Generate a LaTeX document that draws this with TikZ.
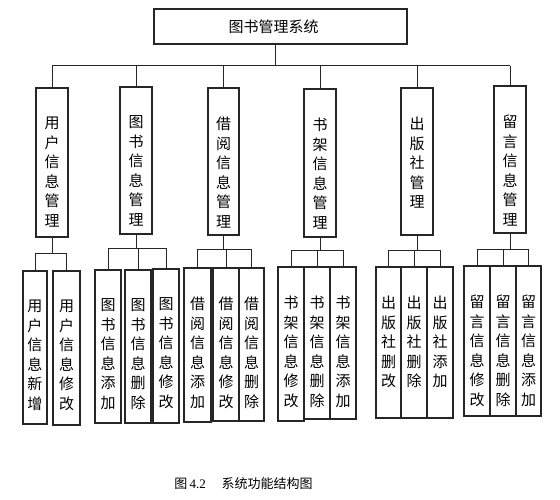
\documentclass[tikz,border=0pt]{standalone}
\usepackage{fontspec}
\setmainfont{Liberation Serif}
\newfontfamily\cjk{Noto Sans CJK SC}
\newcommand{\vt}[3]{\parbox[c][#2][t]{#1}{\centering\cjk\fontsize{15pt}{19.5pt}\selectfont\vspace*{29pt}#3}}
\begin{document}
\begin{tikzpicture}[x=1pt,y=-1pt,
  ln/.style={line width=1pt, draw=black!85},
  bx/.style={draw=black!85, line width=1.1pt, inner sep=0pt, fill=white},
  toptext/.style={font=\cjk\fontsize{15pt}{18pt}\selectfont}]
\useasboundingbox[fill=white] (0,0) rectangle (560,500);

% top
\node[bx, toptext, minimum width=253pt, minimum height=35pt] (top) at (280.5,26.5) {\hspace{-14pt}图书管理系统};

% level 2
\node[bx] (A) at (52,162.5)  {\vt{32pt}{149pt}{用\\户\\信\\息\\管\\理}};
\node[bx] (B) at (136,160.5) {\vt{32pt}{147pt}{图\\书\\信\\息\\管\\理}};
\node[bx] (C) at (223.5,161.5) {\vt{31pt}{147pt}{借\\阅\\信\\息\\管\\理}};
\node[bx] (D) at (320,163)   {\vt{32pt}{148pt}{书\\架\\信\\息\\管\\理}};
\node[bx] (E) at (417,161.5) {\vt{32pt}{147pt}{出\\版\\社\\管\\理}};
\node[bx] (F) at (510,159.5) {\vt{32pt}{147pt}{留\\言\\信\\息\\管\\理}};

% level 3
\node[bx] (a1) at (35,347.5)  {\vt{24pt}{153pt}{用\\户\\信\\息\\新\\增}};
\node[bx] (a2) at (66.5,348)  {\vt{27pt}{154pt}{用\\户\\信\\息\\修\\改}};
\node[bx] (b1) at (108,346.5) {\vt{26pt}{153pt}{图\\书\\信\\息\\添\\加}};
\node[bx] (b2) at (138,346.5) {\vt{26pt}{153pt}{图\\书\\信\\息\\删\\除}};
\node[bx] (b3) at (166,346)   {\vt{26pt}{154pt}{图\\书\\信\\息\\修\\改}};
\node[bx] (c1) at (197.5,345) {\vt{27pt}{154pt}{借\\阅\\信\\息\\添\\加}};
\node[bx] (c2) at (226,344.5) {\vt{26pt}{153pt}{借\\阅\\信\\息\\修\\改}};
\node[bx] (c3) at (251.5,344.5) {\vt{25pt}{153pt}{借\\阅\\信\\息\\删\\除}};
\node[bx] (d1) at (291,344)   {\vt{26pt}{154pt}{书\\架\\信\\息\\修\\改}};
\node[bx] (d2) at (317,343)   {\vt{26pt}{152pt}{书\\架\\信\\息\\删\\除}};
\node[bx] (d3) at (343,343)   {\vt{26pt}{152pt}{书\\架\\信\\息\\添\\加}};
\node[bx] (e1) at (388.5,342.5) {\vt{25pt}{151pt}{出\\版\\社\\删\\改}};
\node[bx] (e2) at (414,342.5) {\vt{26pt}{151pt}{出\\版\\社\\删\\除}};
\node[bx] (e3) at (440,342.5) {\vt{26pt}{151pt}{出\\版\\社\\添\\加}};
\node[bx] (f1) at (477,341)   {\vt{26pt}{150pt}{留\\言\\信\\息\\修\\改}};
\node[bx] (f2) at (503,341)   {\vt{26pt}{150pt}{留\\言\\信\\息\\删\\除}};
\node[bx] (f3) at (528.5,341) {\vt{25pt}{150pt}{留\\言\\信\\息\\添\\加}};

% connectors top -> level 2
\coordinate (bar) at (0,66);
\draw[ln] ([xshift=-5.5pt]top.south) -- ([xshift=-5.5pt]top.south |- bar);
\draw[ln] (A.north |- bar) -- (F.north |- bar);
\foreach \n in {A,B,C,D,E,F} \draw[ln] (\n.north |- bar) -- (\n.north);

% connectors level 2 -> level 3
\coordinate (ga) at (0,253);
\coordinate (gb) at (0,248);
\coordinate (gc) at (0,249);
\coordinate (gd) at (0,250);
\coordinate (ge) at (0,250);
\coordinate (gf) at (0,249);
\draw[ln] (A.south) -- (A.south |- ga);
\draw[ln] (a1.north |- ga) -- (a2.north |- ga);
\foreach \n in {a1,a2} \draw[ln] (\n.north |- ga) -- (\n.north);
\draw[ln] (B.south) -- (B.south |- gb);
\draw[ln] (b1.north |- gb) -- (b3.north |- gb);
\foreach \n in {b1,b2,b3} \draw[ln] (\n.north |- gb) -- (\n.north);
\draw[ln] (C.south) -- (C.south |- gc);
\draw[ln] (c1.north |- gc) -- (c3.north |- gc);
\foreach \n in {c1,c2,c3} \draw[ln] (\n.north |- gc) -- (\n.north);
\draw[ln] (D.south) -- (D.south |- gd);
\draw[ln] (d1.north |- gd) -- (d3.north |- gd);
\foreach \n in {d1,d2,d3} \draw[ln] (\n.north |- gd) -- (\n.north);
\draw[ln] (E.south) -- (E.south |- ge);
\draw[ln] (e1.north |- ge) -- (e3.north |- ge);
\foreach \n in {e1,e2,e3} \draw[ln] (\n.north |- ge) -- (\n.north);
\draw[ln] (F.south) -- (F.south |- gf);
\draw[ln] (f1.north |- gf) -- (f3.north |- gf);
\foreach \n in {f1,f2,f3} \draw[ln] (\n.north |- gf) -- (\n.north);

% caption
\node[font=\fontsize{13pt}{15pt}\selectfont] (cap) at (243.5,484) {{\cjk 图}\,4.2\hspace{1.2em}{\cjk 系统功能结构图}};
\end{tikzpicture}
\end{document}
